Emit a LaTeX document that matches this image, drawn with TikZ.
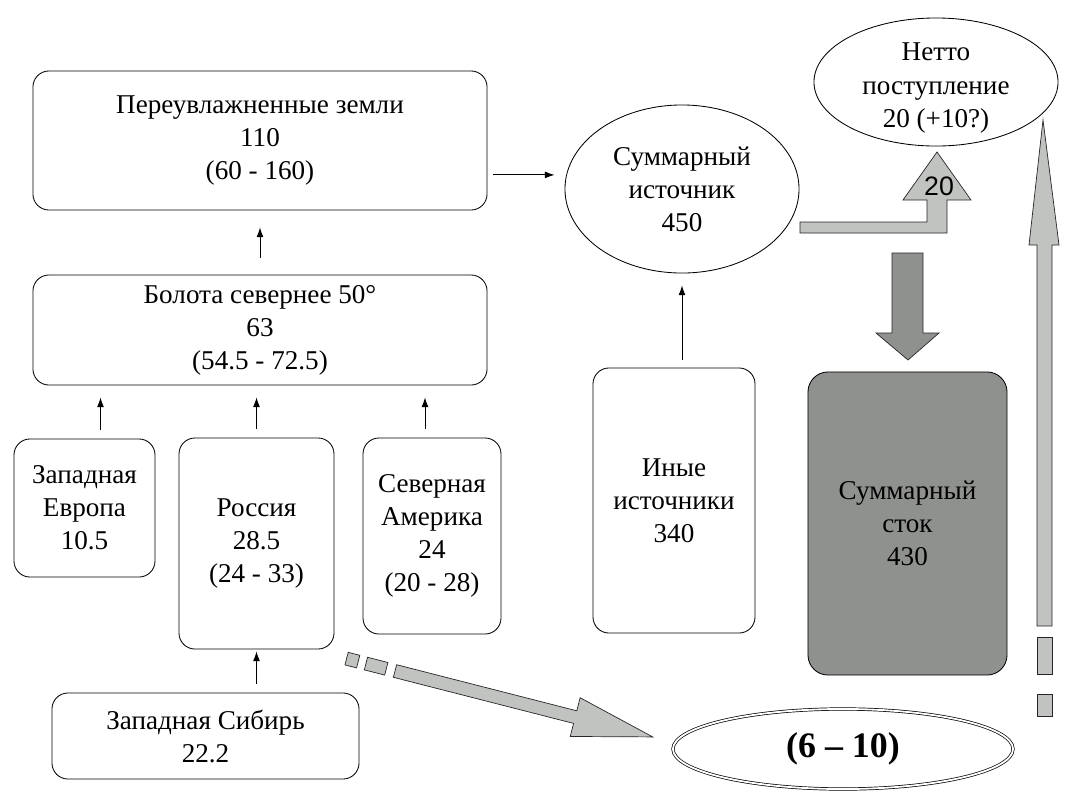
\documentclass[tikz,border=0pt]{standalone}
\usepackage{fontspec}
\setmainfont{Liberation Serif}
\newfontfamily\arialfont{Liberation Sans}
\usepackage{tikz}
\usetikzlibrary{shapes.geometric,arrows.meta,positioning,calc}
\definecolor{palegray}{RGB}{193,195,192}
\definecolor{dimgray}{RGB}{143,145,142}
\tikzset{
  box/.style={draw, line width=0.6pt, rounded corners=0.4cm, align=center, inner sep=2pt, font=\fontsize{19.3}{23.5}\selectfont},
  oval/.style={draw, line width=0.6pt, ellipse, inner sep=0pt, align=center, font=\fontsize{19.3}{23.5}\selectfont},
  link/.style={-{Latex[length=2.4mm,width=1.7mm]}, line width=0.6pt},
  fatarrow/.style={draw=black!85, line width=0.5pt, fill=palegray},
}

\begin{document}
\begin{tikzpicture}[x=0.025cm, y=-0.025cm]
		\useasboundingbox (0,0) rectangle (1073,811);
		% Left column of sources
		\node[box, minimum width=11.35cm, minimum height=3.475cm] at (260,140.5) (wet) {Переувлажненные земли\\110\\(60 - 160)};
		\node[box, minimum width=11.35cm, minimum height=2.75cm] at (260,330) (bog) {Болота севернее 50°\\63\\(54.5 - 72.5)};
		\node[box, minimum width=3.525cm, minimum height=3.45cm] at (84.5,508) (weu) {Западная\\Европа\\10.5};
		\node[box, minimum width=3.875cm, minimum height=5.275cm] at (256.5,543.5) (rus) {Россия\\28.5\\(24 - 33)};
		\node[box, minimum width=3.45cm, minimum height=4.9cm] at (432,536) (nam) {Северная\\Америка\\24\\(20 - 28)};
		\node[box, minimum width=7.675cm, minimum height=2.15cm] at (205.5,736) (wsib) {Западная Сибирь\\22.2};
		% Totals
		\node[oval, minimum width=5.85cm, minimum height=4.2cm] at (682,189) (src) {Суммарный\\источник\\450};
		\node[oval, minimum width=6.1cm, minimum height=3.2cm, label={[align=center, yshift=-0.15cm, font=\fontsize{19.3}{23.5}\selectfont]center:Нетто\\поступление\\20 (+10?)}] at (936,82) (net) {};
		\node[box, minimum width=4.05cm, minimum height=6.625cm] at (674,500.5) (iny) {Иные\\источники\\340};
		\node[box, fill=dimgray, rounded corners=0.5cm, minimum width=4.975cm, minimum height=7.575cm] at (907.5,523.5) (stock) {Суммарный\\сток\\430};
		\node[oval, double, double distance=1.3pt, line width=0.5pt, minimum width=8.5cm, minimum height=2cm, font=\fontsize{25.5}{30}\selectfont\bfseries] at (843,749) (gap) {(6 – 10)};
		% Thin arrows
		\draw[link, shorten <=0.425cm, shorten >=0.425cm] (bog.north) -- (wet.south);
		\draw[link, shorten <=0.225cm, shorten >=0.3cm] ([xshift=0.4cm]weu.north) -- ([xshift=0.4cm]weu.north |- bog.south);
		\draw[link, shorten <=0.225cm, shorten >=0.3cm] (rus.north) -- (rus.north |- bog.south);
		\draw[link, shorten <=0.225cm, shorten >=0.3cm] ([xshift=-0.175cm]nam.north) -- ([xshift=-0.175cm]nam.north |- bog.south);
		\draw[link, shorten <=0.225cm, shorten >=0.05cm] (wsib.north -| rus.south) -- (rus.south);
		\draw[link, shorten <=0.15cm, shorten >=0.25cm] ([yshift=-0.86cm]wet.east) -- ([yshift=-0.86cm]wet.east -| src.west);
		\draw[link, shorten <=0.2cm, shorten >=0.3cm] (iny.north -| src.south) -- (src.south);
		% Block arrows
		\draw[fatarrow] (800,222) -- (927,222) -- (927,200) -- (903,200) -- (937,152) -- (971,200) -- (947,200) -- (947,233) -- (800,233) -- cycle;
		\node[font=\arialfont\fontsize{19}{22}\selectfont, inner sep=0pt] at (939,186) (twenty) {20};
		\draw[fatarrow, fill=dimgray] (892,253) -- (923,253) -- (923,333) -- (939,333) -- (908,360) -- (876,333) -- (892,333) -- cycle;
		\draw[fatarrow] (1037,626) -- (1037,245) -- (1029,245) -- (1043,120) -- (1059,245) -- (1052,245) -- (1052,626) -- cycle;
		\draw[fatarrow] (1037,637) rectangle (1052,674);
		\draw[fatarrow] (1037,694) rectangle (1052,716);
		\begin{scope}[shift={(395,671)}, rotate=-14.35]
			\draw[fatarrow] (0,-6.5) -- (186,-6.5) -- (186,-20) -- (266,0) -- (186,20) -- (186,6.5) -- (0,6.5) -- cycle;
			\draw[fatarrow] (-30,-6.5) rectangle (-9,6.5);
			\draw[fatarrow] (-50,-6.5) rectangle (-38,6.5);
		\end{scope}
	\end{tikzpicture}
\end{document}
